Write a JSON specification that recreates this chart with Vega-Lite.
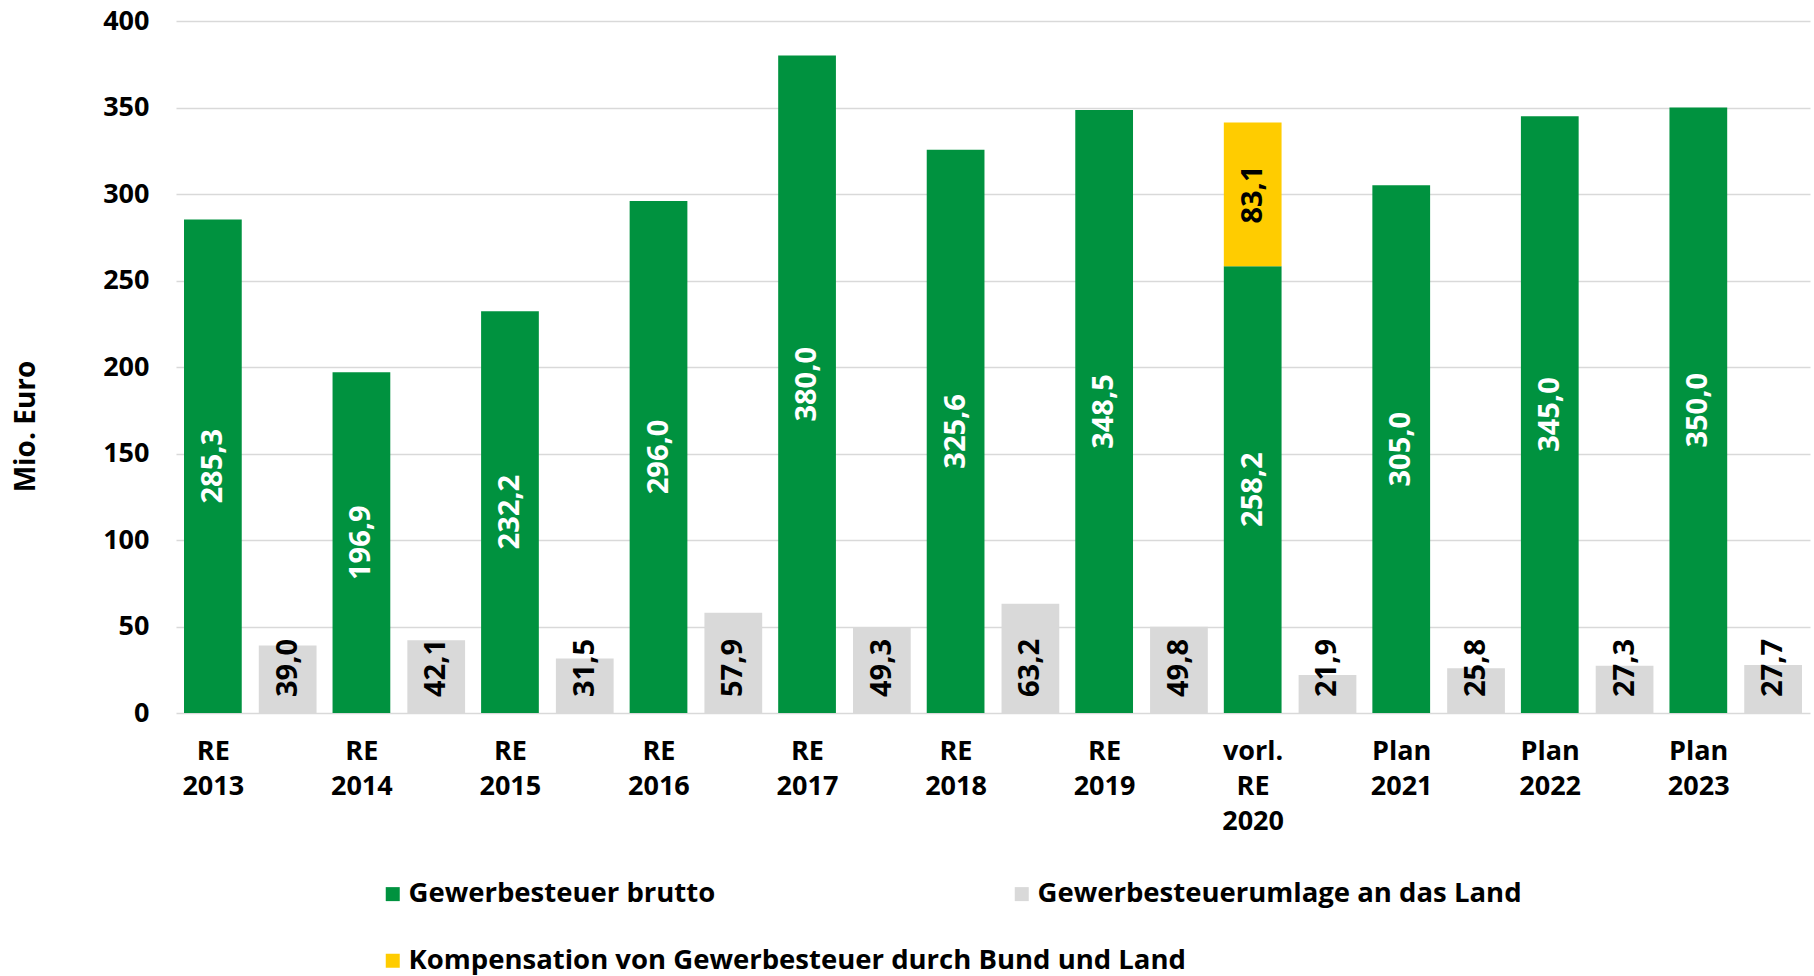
{
  "$schema": "https://vega.github.io/schema/vega-lite/v6.json",
  "autosize": {"type": "none"},
  "width": 1634,
  "height": 692,
  "padding": {"left": 176, "top": 21, "right": 4, "bottom": 263},
  "background": "white",
  "config": {
    "locale": {"number": {"decimal": ",", "thousands": ".", "grouping": [3], "currency": ["", " €"]}},
    "view": {"stroke": null},
    "font": "Open Sans",
    "legend": {
      "title": null, "orient": "none", "symbolType": "square", "symbolSize": 196, "symbolStrokeWidth": 0,
      "labelFontSize": 27.5, "labelFontWeight": "bold", "labelColor": "black",
      "labelOffset": 2, "labelLimit": 2000, "padding": 0
    }
  },
  "data": {"values": [
    {"cat": "RE 2013", "series": "Gewerbesteuer brutto", "group": "Steuer", "value": 285.3},
    {"cat": "RE 2013", "series": "Gewerbesteuerumlage an das Land", "group": "Umlage", "value": 39.0},
    {"cat": "RE 2014", "series": "Gewerbesteuer brutto", "group": "Steuer", "value": 196.9},
    {"cat": "RE 2014", "series": "Gewerbesteuerumlage an das Land", "group": "Umlage", "value": 42.1},
    {"cat": "RE 2015", "series": "Gewerbesteuer brutto", "group": "Steuer", "value": 232.2},
    {"cat": "RE 2015", "series": "Gewerbesteuerumlage an das Land", "group": "Umlage", "value": 31.5},
    {"cat": "RE 2016", "series": "Gewerbesteuer brutto", "group": "Steuer", "value": 296.0},
    {"cat": "RE 2016", "series": "Gewerbesteuerumlage an das Land", "group": "Umlage", "value": 57.9},
    {"cat": "RE 2017", "series": "Gewerbesteuer brutto", "group": "Steuer", "value": 380.0},
    {"cat": "RE 2017", "series": "Gewerbesteuerumlage an das Land", "group": "Umlage", "value": 49.3},
    {"cat": "RE 2018", "series": "Gewerbesteuer brutto", "group": "Steuer", "value": 325.6},
    {"cat": "RE 2018", "series": "Gewerbesteuerumlage an das Land", "group": "Umlage", "value": 63.2},
    {"cat": "RE 2019", "series": "Gewerbesteuer brutto", "group": "Steuer", "value": 348.5},
    {"cat": "RE 2019", "series": "Gewerbesteuerumlage an das Land", "group": "Umlage", "value": 49.8},
    {"cat": "vorl. RE 2020", "series": "Gewerbesteuer brutto", "group": "Steuer", "value": 258.2},
    {"cat": "vorl. RE 2020", "series": "Kompensation von Gewerbesteuer durch Bund und Land", "group": "Steuer", "value": 83.1},
    {"cat": "vorl. RE 2020", "series": "Gewerbesteuerumlage an das Land", "group": "Umlage", "value": 21.9},
    {"cat": "Plan 2021", "series": "Gewerbesteuer brutto", "group": "Steuer", "value": 305.0},
    {"cat": "Plan 2021", "series": "Gewerbesteuerumlage an das Land", "group": "Umlage", "value": 25.8},
    {"cat": "Plan 2022", "series": "Gewerbesteuer brutto", "group": "Steuer", "value": 345.0},
    {"cat": "Plan 2022", "series": "Gewerbesteuerumlage an das Land", "group": "Umlage", "value": 27.3},
    {"cat": "Plan 2023", "series": "Gewerbesteuer brutto", "group": "Steuer", "value": 350.0},
    {"cat": "Plan 2023", "series": "Gewerbesteuerumlage an das Land", "group": "Umlage", "value": 27.7}
  ]},
  "transform": [
    {"stack": "value", "groupby": ["cat", "group"], "sort": [{"field": "series", "order": "ascending"}], "as": ["v0", "v1"]}
  ],
  "encoding": {
    "x": {
      "field": "cat", "type": "nominal", "sort": null,
      "scale": {"paddingInner": 0, "paddingOuter": 0},
      "axis": {
        "title": null, "domain": false, "ticks": false, "labelAngle": 0,
        "labelFontSize": 27, "labelFontWeight": "bold", "labelColor": "black",
        "labelPadding": 25, "labelOffset": -37, "labelLineHeight": 35,
        "labelBaseline": "top", "labelExpr": "split(datum.label, ' ')", "labelOverlap": false
      }
    },
    "xOffset": {"field": "group", "type": "nominal", "sort": ["Steuer", "Umlage"], "scale": {"paddingInner": 0.228, "paddingOuter": 0.107}}
  },
  "layer": [
    {
      "transform": [{"filter": "datum.series !== 'Kompensation von Gewerbesteuer durch Bund und Land'"}],
      "mark": {"type": "bar"},
      "encoding": {
        "y": {
          "field": "v1", "type": "quantitative",
          "scale": {"domain": [0, 400], "nice": false},
          "axis": {
            "values": [0, 50, 100, 150, 200, 250, 300, 350, 400],
            "domain": false, "ticks": false,
            "labelFontSize": 27, "labelFontWeight": "bold", "labelColor": "black", "labelPadding": 27,
            "gridColor": "#d9d9d9", "gridWidth": 1.5,
            "title": "Mio. Euro", "titleFontSize": 28, "titleFontWeight": "bold", "titleColor": "black",
            "titleX": -150, "titleY": 405, "titleAngle": 270, "titleAlign": "center", "titleBaseline": "middle"
          }
        },
        "y2": {"field": "v0"},
        "color": {
          "field": "series", "type": "nominal",
          "scale": {
            "domain": ["Gewerbesteuer brutto", "Gewerbesteuerumlage an das Land"],
            "range": ["#00923F", "#D9D9D9"]
          },
          "legend": {
            "legendX": 203, "legendY": 859,
            "direction": "horizontal", "columns": 2, "columnPadding": 292
          }
        }
      }
    },
    {
      "transform": [{"filter": "datum.series === 'Kompensation von Gewerbesteuer durch Bund und Land'"}],
      "mark": {"type": "bar"},
      "encoding": {
        "y": {"field": "v1", "type": "quantitative", "scale": {"domain": [0, 400], "nice": false}, "axis": null},
        "y2": {"field": "v0"},
        "fill": {
          "field": "series", "type": "nominal",
          "scale": {"domain": ["Kompensation von Gewerbesteuer durch Bund und Land"], "range": ["#FFCC00"]},
          "legend": {"legendX": 203, "legendY": 926, "direction": "horizontal"}
        }
      }
    },
    {
      "transform": [{"filter": "datum.series === 'Gewerbesteuer brutto'"}],
      "mark": {"type": "text", "angle": 270, "align": "center", "baseline": "middle", "color": "white", "fontSize": 29, "fontWeight": "bold"},
      "encoding": {
        "y": {"field": "value", "type": "quantitative", "scale": {"domain": [0, 800], "nice": false}, "axis": null},
        "text": {"field": "value", "type": "quantitative", "format": ".1f"}
      }
    },
    {
      "transform": [{"filter": "datum.group === 'Umlage'"}],
      "mark": {"type": "text", "angle": 270, "align": "left", "baseline": "middle", "color": "black", "fontSize": 29, "fontWeight": "bold", "dx": 16},
      "encoding": {
        "y": {"datum": 0, "type": "quantitative", "scale": {"domain": [0, 400], "nice": false}, "axis": null},
        "text": {"field": "value", "type": "quantitative", "format": ".1f"}
      }
    },
    {
      "transform": [{"filter": "datum.series === 'Kompensation von Gewerbesteuer durch Bund und Land'"}],
      "mark": {"type": "text", "angle": 270, "align": "center", "baseline": "middle", "color": "black", "fontSize": 29, "fontWeight": "bold", "dx": -72},
      "encoding": {
        "y": {"field": "v1", "type": "quantitative", "scale": {"domain": [0, 400], "nice": false}, "axis": null},
        "text": {"field": "value", "type": "quantitative", "format": ".1f"}
      }
    }
  ],
  "resolve": {"scale": {"y": "independent"}}
}
